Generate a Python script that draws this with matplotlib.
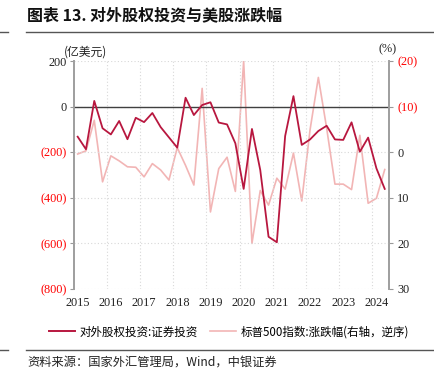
import matplotlib
matplotlib.use("Agg")
import matplotlib.pyplot as plt
from matplotlib.lines import Line2D
from matplotlib.ticker import FixedLocator, FuncFormatter
import numpy as np

plt.rcParams['font.family'] = ['Liberation Serif', 'Noto Sans CJK SC', 'DejaVu Sans']

years = ['2015', '2016', '2017', '2018', '2019', '2020', '2021', '2022', '2023', '2024']

# 对外股权投资:证券投资 (亿美元), quarterly 2015Q1 - 2024Q2
equity_inv = [-132, -187, 25, -95, -122, -63, -143, -49, -68, -28, -90, -135,
              -180, 39, -37, 7, 19, -70, -78, -161, -361, -98, -278, -571,
              -595, -129, 46, -168, -144, -107, -84, -144, -146, -69, -198, -136,
              -271, -361]

# 标普500指数:涨跌幅 (%), quarterly 2015Q1 - 2024Q2 (right axis, reversed)
sp500_chg = [0.4, -0.3, -7.0, 6.5, 0.8, 1.9, 3.2, 3.3, 5.4, 2.5, 3.9, 6.1,
             -1.0, 2.9, 7.2, -14.0, 13.1, 3.6, 1.1, 8.6, -20.0, 20.0, 8.4, 11.6,
             5.7, 8.1, 0.2, 10.7, -4.9, -16.4, -5.3, 7.0, 7.0, 8.2, -3.7, 11.2,
             10.1, 3.8]

left_ticks = [200, 0, -200, -400, -600, -800]
right_ticks = [-20, -10, 0, 10, 20, 30]

dark = '#B8173F'
light = '#F2B5B5'
red_lbl = '#FF0000'
cjk = ['Noto Sans CJK SC', 'DejaVu Sans']

fig = plt.figure(figsize=(4.35, 3.79), dpi=100)
ax1 = fig.add_axes([0.169, 0.2375, 0.725, 0.6015])
ax2 = ax1.twinx()

x = np.arange(len(equity_inv))
ax2.plot(x, sp500_chg, color=light, lw=1.2, zorder=2)
ax1.plot(x, equity_inv, color=dark, lw=1.3, zorder=3)
ax1.axhline(0, color='#404040', lw=1.0, zorder=2.5)

ax1.set_zorder(ax2.get_zorder() + 1)
ax1.patch.set_visible(False)

ax1.set_xlim(-0.5, len(equity_inv) - 0.5)
ax1.set_ylim(-800, 200)
ax2.set_ylim(30, -20)

ax1.set_xticks(np.arange(0, len(equity_inv), 4))
ax1.set_xticklabels(years)
ax1.xaxis.set_minor_locator(FixedLocator(np.arange(3.5, len(equity_inv) - 1, 4)))
ax1.tick_params(axis='x', which='both', length=0, labelsize=8.8, colors='#222222', pad=6)
ax1.grid(axis='x', which='minor', color='#D8D8D8', lw=0.8, ls=(0, (1, 2)))

ax1.set_yticks(left_ticks)
ax1.yaxis.set_major_formatter(FuncFormatter(lambda v, p: f'({abs(int(v))})' if v < 0 else f'{int(v)}'))
ax1.tick_params(axis='y', which='major', length=3, width=0.8, color='#999999', labelsize=8.8, pad=2)
ax1.grid(axis='y', color='#D8D8D8', lw=0.8, ls=(0, (1, 2)))
for v, lab in zip(left_ticks, ax1.get_yticklabels()):
    lab.set_color(red_lbl if v < 0 else '#222222')

ax2.set_yticks(right_ticks)
ax2.yaxis.set_major_formatter(FuncFormatter(lambda v, p: f'({abs(int(v))})' if v < 0 else f'{int(v)}'))
ax2.tick_params(axis='y', length=3, width=0.8, color='#999999', labelsize=8.8, pad=3)
for v, lab in zip(right_ticks, ax2.get_yticklabels()):
    lab.set_color(red_lbl if v < 0 else '#222222')

for ax in (ax1, ax2):
    ax.spines['top'].set_visible(False)
    ax.spines['bottom'].set_visible(False)
    ax.spines['left'].set_color('#A0A0A0')
    ax.spines['right'].set_color('#A0A0A0')
    ax.spines['left'].set_linewidth(1.3)
    ax.spines['right'].set_linewidth(1.3)

# unit labels
fig.text(64 / 435, 1 - 52 / 379, '(亿美元)', fontsize=8.5, ha='left', va='center',
         family=cjk, color='#222222')
fig.text(388 / 435, 1 - 49 / 379, '(%)', fontsize=8.8, ha='center', va='center', color='#222222')

# title
fig.text(27 / 435, 1 - 15 / 379, '图表 13. 对外股权投资与美股涨跌幅', fontsize=11.5, fontweight='bold',
         ha='left', va='center', family=cjk, color='#111111')
fig.add_artist(Line2D([26 / 435, 1], [1 - 32.3 / 379] * 2, color='#555555', lw=1.0))
fig.add_artist(Line2D([0, 8 / 435], [1 - 32.3 / 379] * 2, color='#555555', lw=1.0))

# legend
handles = [Line2D([], [], color=dark, lw=1.4), Line2D([], [], color=light, lw=1.2)]
labels = ['对外股权投资:证券投资', '标普500指数:涨跌幅(右轴，逆序)']
fig.legend(handles, labels, loc='center', bbox_to_anchor=(229 / 435, 1 - 332 / 379), ncol=2,
           frameon=False, handlelength=2.3, handletextpad=0.4, columnspacing=1.0,
           prop={'family': cjk, 'size': 8.3})

fig.add_artist(Line2D([26 / 435, 1], [1 - 350.3 / 379] * 2, color='#555555', lw=1.0))
fig.add_artist(Line2D([0, 8 / 435], [1 - 350.3 / 379] * 2, color='#555555', lw=1.0))

fig.text(27 / 435, 1 - 362 / 379, '资料来源：国家外汇管理局，Wind，中银证券', fontsize=8.8,
         ha='left', va='center', family=cjk, color='#222222')

fig.savefig('out.png', dpi=100)
